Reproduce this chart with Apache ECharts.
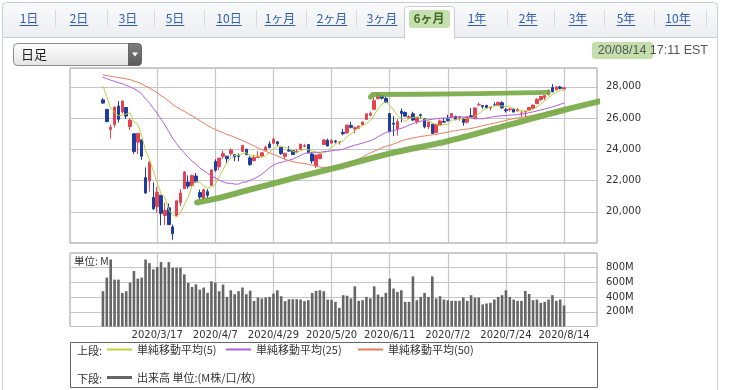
<!DOCTYPE html>
<html><head><meta charset="utf-8">
<script src="https://cdn.jsdelivr.net/npm/echarts/dist/echarts.min.js"></script>
<style>html,body{margin:0;padding:0;background:#fff;}#c{width:729px;height:390px;}</style>
</head><body><div id="c"></div>
<script>
// ---- trading days (categories): Feb 13 .. Aug 14 plus 8 empty trailing days
const febDays = [13,14,18,19,20,21,24,25,26,27,28];
const marDays = [2,3,4,5,6,9,10,11,12,13,16,17,18,19,20,23,24,25,26,27,30,31];
const aprDays = [1,2,3,6,7,8,9,13,14,15,16,17,20,21,22,23,24,27,28,29,30];
const mayDays = [1,4,5,6,7,8,11,12,13,14,15,18,19,20,21,22,26,27,28,29];
const junDays = [1,2,3,4,5,8,9,10,11,12,15,16,17,18,19,22,23,24,25,26,29,30];
const julDays = [1,2,6,7,8,9,10,13,14,15,16,17,20,21,22,23,24,27,28,29,30,31];
const augDays = [3,4,5,6,7,10,11,12,13,14,17,18,19,20,21,24,25,26];
const firstDataDate = '2020/2/26';
const tickLabels = ['2020/3/17','2020/4/7','2020/4/29','2020/5/20','2020/6/11','2020/7/2','2020/7/24','2020/8/14'];

// ---- OHLC (from 2020/2/26 to 2020/8/14)
const open = [27160,26557,25270,25591,26762,26383,26671,25457,24992,24453,
24604,22184,21973,20918,20335,21058,19760,20253,19028,19722,
20596,21468,21899,21678,22288,21227,20820,21285,21693,23214,
22876,23548,23558,23722,23653,23581,23857,24001,23443,23260,
23491,23567,23931,24341,24385,24481,24120,23548,23940,23907,
23782,24000,24191,24300,23696,22958,23403,24301,24576,24390,
24535,24452,25082,25048,25527,25300,25342,25570,25910,26174,
26553,27233,27447,27251,26282,25659,25315,26438,26356,26013,
26269,25767,26209,25961,25430,25605,25055,25535,25780,25928,
26055,26112,25950,25999,25738,26140,25948,26843,26797,26803,
26638,26848,26806,26974,26531,26530,26554,26450,26310,26384,
26493,26628,26915,27187,27305,27501,27946,27799,27986,27853];
const close = [26957,25766,25409,26703,25917,27091,26121,25865,23851,25018,
23553,21200,23186,20189,21237,19899,20087,19174,18592,20704,
21200,22552,21637,22327,21917,20944,21413,21053,22680,22654,
23434,23719,23390,23949,23504,23538,24242,23650,23018,23475,
23515,23775,24134,24101,24634,24346,23724,23750,23883,23664,
23876,24331,24221,23764,23248,23625,23685,24597,24207,24576,
24474,24465,24995,25548,25401,25383,25475,25742,26270,26281,
27111,27572,27272,26990,25128,25606,25763,26290,26120,26080,
25871,26025,26156,25445,25746,25016,25596,25813,25735,25827,
26287,25890,26067,25706,26075,26086,26643,26870,26735,26672,
26681,26840,27006,26652,26470,26584,26380,26540,26314,26428,
26665,26828,27202,27387,27433,27791,27687,27977,27897,27931];
const high = [27267,26557,25570,26706,27084,27102,26671,25994,24992,25020,
24604,22838,23190,21871,21581,21058,20575,20532,19178,20704,
21451,22596,22327,22378,22482,21420,21477,21447,22680,23358,
23434,23923,23558,24051,23653,23721,24265,24001,23558,23639,
23880,23803,24244,24509,24764,24481,24120,23751,24208,23934,
24015,24332,24356,24331,23761,23625,23685,24652,24678,24650,
24601,24508,25302,25548,25752,25448,25532,25749,26272,26414,
27338,27580,27447,27356,26282,26127,25926,26611,26421,26177,
26402,26063,26288,25961,25748,25605,25597,25904,26012,26204,
26308,26133,26090,26018,26080,26638,26671,26986,26797,26845,
26716,27001,27006,27075,26635,26629,26603,26635,26459,26428,
26720,26850,27255,27387,27449,27791,28162,28039,28055,27945];
const low = [26891,25752,24681,25391,25706,26286,25943,25226,23707,23690,
23328,21154,21286,20103,19952,19125,19139,19160,18214,19722,
20353,21468,21469,21522,21854,20735,20736,20863,21693,22563,
22663,23387,23097,23549,23240,23227,23857,23627,22942,23260,
23435,23501,23931,24091,24385,24186,23644,23361,23858,23659,
23782,24000,24114,23757,23082,22790,23363,24301,24182,24390,
24370,24297,24892,24985,25330,25038,25304,25495,25890,26112,
26546,27232,27180,26971,25082,24843,24879,25733,26078,25922,
25801,25631,25977,25340,25294,24990,25055,25535,25727,25780,
26055,25878,25825,25506,25638,26070,25947,26750,26606,26600,
26488,26796,26799,26584,26353,26408,26363,26418,26082,26069,
26493,26590,26915,27079,27156,27434,27633,27797,27832,27771];

// ---- moving averages
const ma5 = [28042,27351,26635,26383,26150,26177,26248,26339,25769,25589,
24882,23897,23362,22629,21873,21142,20920,20117,19798,19691,
19951,20444,20937,21684,21927,21875,21648,21531,21601,21749,
22247,22708,23175,23429,23599,23620,23725,23777,23590,23585,
23580,23487,23583,23800,24032,24198,24188,24111,24067,23873,
23779,23901,23995,23971,23888,23838,23709,23784,23872,24138,
24308,24464,24543,24812,24977,25158,25360,25510,25654,25830,
26176,26595,26901,27045,26815,26514,26152,25955,25781,25972,
26025,26077,26050,25915,25849,25678,25592,25523,25581,25597,
25852,25910,25961,25955,26005,25965,26115,26276,26482,26601,
26720,26760,26787,26770,26730,26710,26618,26525,26458,26449,
26465,26555,26687,26902,27103,27328,27500,27655,27757,27857];
const ma25 = [28600,28520,28420,28350,28260,28190,28090,27990,27870,27740,
27540,27220,26980,26620,26300,25930,25550,25140,24700,24360,
24040,23770,23480,23250,23045,22805,22631,22457,22296,22166,
22020,21924,21825,21829,21768,21768,21889,21908,22021,22111,
22255,22403,22601,22821,22978,23104,23151,23236,23298,23368,
23485,23602,23729,23772,23796,23804,23803,23851,23861,23904,
23941,23950,24004,24105,24182,24257,24325,24389,24476,24542,
24653,24807,24948,25072,25131,25200,25257,25340,25434,25547,
25637,25731,25793,25843,25890,25912,25957,25990,25997,26014,
26050,26067,26080,26057,26049,26008,25971,25955,25945,26007,
26050,26093,26122,26143,26159,26188,26202,26217,26252,26279,
26345,26394,26450,26516,26580,26640,26712,26788,26876,26950];
const ma50 = [28764,28717,28660,28629,28583,28557,28510,28456,28363,28291,
28189,28044,27937,27763,27615,27439,27269,27078,26871,26709,
26555,26427,26279,26140,25991,25826,25671,25509,25383,25265,
25159,25059,24950,24864,24766,24661,24560,24445,24323,24207,
24092,23976,23870,23764,23672,23572,23462,23357,23275,23207,
23145,23117,23093,23034,22981,22912,22863,22838,22845,22836,
22854,22919,22955,23062,23145,23255,23363,23494,23648,23760,
23878,23978,24091,24184,24248,24341,24428,24533,24602,24671,
24720,24766,24821,24851,24896,24926,24953,24996,25050,25097,
25152,25194,25233,25265,25294,25329,25387,25449,25506,25566,
25622,25672,25728,25786,25850,25909,25963,26002,26044,26081,
26125,26172,26216,26253,26294,26342,26386,26431,26464,26497];

// ---- volume (M)
const volume = [480,665,912,638,638,457,480,597,754,651,
665,912,862,777,808,876,800,876,800,800,
800,709,592,538,574,502,530,457,615,597,
480,570,403,493,439,480,530,439,487,349,
394,381,394,403,448,493,412,345,372,372,
372,367,345,358,457,484,493,480,367,363,
335,254,426,418,382,547,349,358,403,382,
547,434,403,457,651,516,470,493,335,335,
682,358,403,457,403,682,382,412,367,358,
349,349,349,394,349,426,394,394,300,313,
322,367,403,426,493,403,367,349,349,484,
443,358,367,322,335,367,426,349,367,286];

// ---- hand-drawn green annotation lines, in (day index, price)
const trendUp = [[32.3,20596],[37.4,20853],[45.2,21365],[52.1,21814],[58.9,22263],[67.4,22776],[82.1,23737],[96.8,24506],[112.3,25532],[126.7,26494],[140.7,27327]];
const trendFlat = [[77.0,27330],[77.6,27500],[90,27520],[105,27560],[122.9,27640]];

const tabLabels = ['1日','2日','3日','5日','10日','1ヶ月','2ヶ月','3ヶ月','6ヶ月','1年','2年','3年','5年','10年'];
const selectedTab = '6ヶ月';
const legendNames = ['単純移動平均(5)','単純移動平均(25)','単純移動平均(50)','出来高 単位:(M株/口/枚)'];

// ---- build categories
const cats = [];
[[2,febDays],[3,marDays],[4,aprDays],[5,mayDays],[6,junDays],[7,julDays],[8,augDays]].forEach(([m,ds])=>ds.forEach(d=>cats.push('2020/'+m+'/'+d)));
const off = cats.indexOf(firstDataDate);
const pad = arr => cats.map((c,i)=>{const k=i-off; return (k>=0&&k<arr.length)?arr[k]:'-';});
const candle = cats.map((c,i)=>{const k=i-off; return (k>=0&&k<open.length)?[open[k],close[k],low[k],high[k]]:'-';});

const LATIN='"Liberation Sans","Noto Sans CJK JP",sans-serif';
const CJK='"Noto Sans CJK JP","Liberation Sans",sans-serif';
const AX='"DejaVu Sans",sans-serif';
const isTick = (i,v)=>tickLabels.indexOf(v)>=0;
const gridLine = {color:'#c6c6c6', width:1.2};

// ---- decorations
const mctx = document.createElement('canvas').getContext('2d');
const tabCenters = [29,79,128,175,229,280,332,382,429,477,528,578,626,678];
const tabSeps = [55,107,154,204,256,306,356,507,554,604,654,706];
const g = [];
g.push({type:'rect',z:-10,shape:{x:2.5,y:2.5,width:715,height:35,r:[4,4,0,0]},style:{fill:new echarts.graphic.LinearGradient(0,0,0,1,[{offset:0,color:'#f9fafb'},{offset:1,color:'#eceef1'}]),stroke:'#c9ccd1',lineWidth:1}});
g.push({type:'rect',z:-9,shape:{x:2.5,y:37.5,width:715,height:360},style:{fill:'#fff',stroke:'#c9ccd1',lineWidth:1}});
g.push({type:'rect',z:-8,shape:{x:404.5,y:6.5,width:50,height:32,r:[3,3,0,0]},style:{fill:'#fff',stroke:'#c9ccd1',lineWidth:1}});
g.push({type:'rect',z:-7,shape:{x:405,y:36,width:49,height:3},style:{fill:'#fff'}});
g.push({type:'rect',z:-6,shape:{x:409,y:10,width:41,height:18,r:3},style:{fill:'#c6dfb0'}});
tabSeps.forEach(x=>g.push({type:'line',z:-6,shape:{x1:x+0.5,y1:10,x2:x+0.5,y2:27},style:{stroke:'#d6d9dd',lineWidth:1}}));
tabLabels.forEach((t,i)=>{
  const sel = t===selectedTab;
  const font = (sel?'bold ':'')+'12px '+CJK;
  g.push({type:'text',z:5,style:{text:t,x:tabCenters[i],y:18.5,align:'center',verticalAlign:'middle',font:font,fill:sel?'#3f6b22':'#2f5cb6'}});
  if(!sel){mctx.font=font;const w=mctx.measureText(t).width;
    g.push({type:'line',z:5,shape:{x1:tabCenters[i]-w/2,y1:25.5,x2:tabCenters[i]+w/2,y2:25.5},style:{stroke:'#2f5cb6',lineWidth:1}});}
});
// dropdown
g.push({type:'rect',z:1,shape:{x:13.5,y:43.5,width:128,height:22,r:4},style:{fill:new echarts.graphic.LinearGradient(0,0,0,1,[{offset:0,color:'#ffffff'},{offset:1,color:'#e4e4e4'}]),stroke:'#8c8c8c',lineWidth:1}});
g.push({type:'rect',z:2,shape:{x:128.5,y:43.5,width:13,height:22,r:[0,4,4,0]},style:{fill:new echarts.graphic.LinearGradient(0,0,0,1,[{offset:0,color:'#808080'},{offset:1,color:'#585858'}]),stroke:'#666',lineWidth:1}});
g.push({type:'polygon',z:3,shape:{points:[[132,52.5],[138,52.5],[135,56.5]]},style:{fill:'#fff'}});
g.push({type:'text',z:3,style:{text:'日足',x:21,y:54.5,verticalAlign:'middle',font:'13px '+CJK,fill:'#222'}});
// timestamp
g.push({type:'rect',z:1,shape:{x:592,y:42,width:61,height:17,r:3},style:{fill:'#bedba3',opacity:0.9}});
g.push({type:'text',z:2,style:{text:'20/08/14 17:11 EST',x:708,y:50.5,align:'right',verticalAlign:'middle',font:'12.5px '+LATIN,fill:'#555'}});
// volume unit
g.push({type:'text',z:20,style:{text:'単位: M',x:74,y:261,verticalAlign:'middle',font:'10.5px '+CJK,fill:'#333'}});
// legend box
g.push({type:'rect',z:1,shape:{x:70.5,y:342.5,width:527,height:45},style:{fill:'none',stroke:'#666',lineWidth:1}});
g.push({type:'text',z:2,style:{text:'上段:',x:77,y:350.5,verticalAlign:'middle',font:'11px '+CJK,fill:'#333'}});
g.push({type:'text',z:2,style:{text:'下段:',x:77,y:378.5,verticalAlign:'middle',font:'11px '+CJK,fill:'#333'}});

const legendBase = {icon:'rect',itemWidth:25,itemHeight:2,padding:0,selectedMode:false,textStyle:{fontSize:11,color:'#333',fontFamily:CJK}};
const c5='#b9d23c', c25='#b05fe0', c50='#ec7b5a', cv='#666666';

const chart = echarts.init(document.getElementById('c'),null,{renderer:'canvas'});
chart.setOption({
  animation:false,
  backgroundColor:'#fff',
  graphic:g,
  legend:[
    Object.assign({},legendBase,{data:[legendNames[0]],left:107,top:344}),
    Object.assign({},legendBase,{data:[legendNames[1]],left:226,top:344}),
    Object.assign({},legendBase,{data:[legendNames[2]],left:358,top:344}),
    Object.assign({},legendBase,{data:[legendNames[3]],left:107,top:372,itemHeight:3})
  ],
  grid:[
    {left:70,top:68,width:527,height:175,show:true,borderColor:'#9c9c9c',borderWidth:1,outerBoundsMode:'none'},
    {left:70,top:253,width:527,height:73.5,show:true,borderColor:'#9c9c9c',borderWidth:1,outerBoundsMode:'none'}
  ],
  xAxis:[
    {type:'category',gridIndex:0,data:cats,axisLine:{show:false},axisTick:{show:false},axisLabel:{show:false},
     splitLine:{show:true,interval:isTick,alignWithLabel:true,lineStyle:gridLine}},
    {type:'category',gridIndex:1,data:cats,axisLine:{show:false},axisTick:{show:false},
     axisLabel:{interval:isTick,margin:4,fontSize:10,fontFamily:AX,color:'#333'},
     splitLine:{show:true,interval:isTick,alignWithLabel:true,lineStyle:gridLine}},
    {type:'value',gridIndex:0,min:-0.5,max:cats.length-0.5,show:false,position:'top',splitLine:{show:false}}
  ],
  yAxis:[
    {type:'value',gridIndex:0,position:'right',min:18000,max:29200,interval:2000,
     axisLine:{show:false},axisTick:{show:false},
     axisLabel:{showMinLabel:false,showMaxLabel:false,margin:9,fontSize:10,fontFamily:AX,color:'#333',
       formatter:v=>String(v).replace(/\B(?=(\d{3})+(?!\d))/g,',')},
     splitLine:{show:true,lineStyle:gridLine}},
    {type:'value',gridIndex:1,position:'right',min:0,max:1000,interval:200,
     axisLine:{show:false},axisTick:{show:false},
     axisLabel:{showMinLabel:false,showMaxLabel:false,margin:9,fontSize:10,fontFamily:AX,color:'#333',formatter:v=>v+'M'},
     splitLine:{show:true,lineStyle:gridLine}}
  ],
  series:[
    {type:'candlestick',name:'日足',xAxisIndex:0,yAxisIndex:0,data:candle,barWidth:3,z:3,
     itemStyle:{color:'#e6414f',color0:'#1e3d9e',borderColor:'#e6414f',borderColor0:'#1e3d9e',borderWidth:1}},
    {type:'line',name:legendNames[0],xAxisIndex:0,yAxisIndex:0,data:pad(ma5),showSymbol:false,z:4,color:c5,lineStyle:{width:1,color:c5}},
    {type:'line',name:legendNames[1],xAxisIndex:0,yAxisIndex:0,data:pad(ma25),showSymbol:false,z:4,color:c25,lineStyle:{width:1,color:c25}},
    {type:'line',name:legendNames[2],xAxisIndex:0,yAxisIndex:0,data:pad(ma50),showSymbol:false,z:4,color:c50,lineStyle:{width:1,color:c50}},
    {type:'bar',name:legendNames[3],xAxisIndex:1,yAxisIndex:1,data:pad(volume),barWidth:2.6,color:cv,itemStyle:{color:cv}},
    {type:'line',name:'trendUp',xAxisIndex:2,yAxisIndex:0,data:trendUp,showSymbol:false,clip:false,silent:true,z:8,smooth:0.3,
     lineStyle:{width:6,color:'#74a843',opacity:0.9,cap:'round',join:'round'}},
    {type:'line',name:'trendFlat',xAxisIndex:2,yAxisIndex:0,data:trendFlat,showSymbol:false,clip:false,silent:true,z:8,
     lineStyle:{width:5,color:'#74a843',opacity:0.9,cap:'round',join:'round'}}
  ]
});
</script></body></html>
